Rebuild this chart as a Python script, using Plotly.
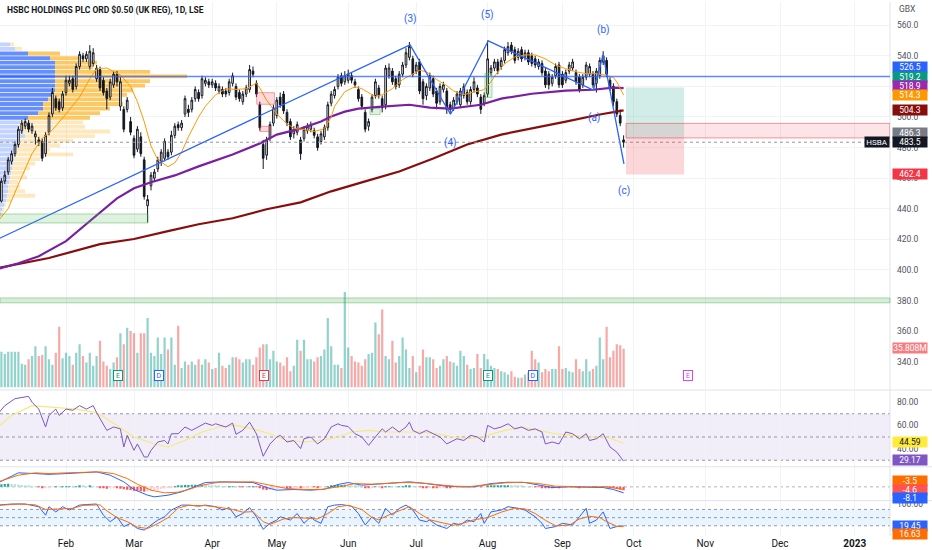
"""
HSBC (LSE: HSBA) daily chart rebuilt with Plotly.

Price panel with volume profile, moving averages and a wave drawing,
followed by volume, RSI, MACD and stochastic panels.
"""

import plotly.graph_objects as go

# ---------------------------------------------------------------------------
# data
# ---------------------------------------------------------------------------
TITLE = 'HSBC HOLDINGS PLC ORD $0.50 (UK REG), 1D, LSE'

# trading-day index of the first bar of each month (4 Jan 2022 = bar 0)
month_pos = [20, 40, 63, 82, 103, 123, 144, 166, 187, 208, 230, 252]
month_txt = ['Feb', 'Mar', 'Apr', 'May', 'Jun', 'Jul', 'Aug', 'Sep',
             'Oct', 'Nov', 'Dec', '<b>2023</b>']

opens = [
    445, 445, 458, 464, 471, 476, 482, 491, 494, 496,
    491, 487, 485, 484, 476, 490, 502, 512, 510, 506,
    516, 522, 525, 520, 533, 540, 538, 533, 535, 525,
    531, 524, 517, 513, 521, 528, 507, 505, 505, 497,
    486, 479, 487, 472, 442, 455, 460, 466, 471, 473,
    477, 477, 488, 495, 493, 502, 505, 505, 512, 516,
    514, 522, 523, 521, 522, 517, 518, 517, 516, 522,
    520, 516, 510, 515, 518, 530, 522, 508, 482, 475,
    486, 496, 501, 513, 515, 503, 497, 489, 490, 485,
    486, 491, 492, 491, 487, 484, 487, 493, 509, 514,
    520, 527, 523, 524, 527, 523, 518, 513, 503, 494,
    505, 514, 519, 512, 508, 527, 530, 525, 521, 528,
    534, 539, 538, 530, 536, 523, 514, 519, 525, 517,
    510, 518, 517, 508, 506, 510, 508, 514, 516, 510,
    518, 519, 513, 509, 515, 529, 532, 536, 533, 537,
    542, 547, 544, 539, 544, 539, 542, 540, 538, 533,
    535, 530, 528, 522, 527, 534, 528, 524, 530, 532,
    529, 526, 521, 526, 528, 528, 522, 527, 536, 537,
    524, 520, 510, 501, 485,
]
highs = [
    452, 460, 465, 474, 478, 484, 494, 498, 499, 498,
    496, 491, 487, 486, 490, 503, 519, 514, 512, 517,
    527, 527, 527, 535, 543, 542, 543, 547, 545, 534,
    533, 526, 519, 525, 530, 530, 526, 507, 513, 500,
    488, 494, 490, 474, 449, 464, 466, 474, 479, 486,
    479, 491, 496, 497, 498, 514, 508, 513, 520, 518,
    527, 526, 525, 525, 524, 522, 520, 519, 525, 529,
    522, 518, 517, 521, 534, 533, 524, 510, 485, 487,
    497, 508, 513, 516, 517, 505, 499, 494, 497, 487,
    494, 496, 497, 493, 489, 491, 495, 510, 517, 520,
    528, 529, 530, 531, 529, 525, 520, 515, 505, 499,
    515, 525, 521, 514, 534, 535, 532, 527, 530, 536,
    545, 549, 540, 536, 538, 525, 522, 529, 527, 519,
    522, 523, 519, 510, 513, 517, 519, 522, 518, 520,
    526, 521, 515, 516, 550, 534, 538, 538, 539, 546,
    549, 549, 546, 545, 546, 544, 544, 542, 540, 538,
    537, 532, 530, 528, 535, 536, 530, 531, 536, 538,
    531, 528, 528, 536, 535, 530, 532, 539, 543, 539,
    526, 522, 512, 505, 488,
]
lows = [
    443, 444, 456, 462, 469, 474, 480, 489, 492, 490,
    489, 482, 481, 471, 474, 488, 500, 504, 503, 504,
    514, 520, 516, 518, 531, 536, 536, 531, 533, 523,
    517, 514, 505, 511, 519, 520, 504, 490, 503, 488,
    473, 477, 474, 446, 431, 452, 458, 464, 468, 471,
    472, 475, 486, 491, 491, 500, 500, 503, 510, 510,
    512, 520, 519, 519, 517, 515, 513, 513, 514, 520,
    511, 510, 508, 513, 516, 526, 513, 491, 466, 472,
    484, 494, 499, 506, 502, 494, 485, 486, 488, 472,
    484, 489, 490, 486, 478, 482, 485, 491, 507, 512,
    518, 520, 521, 522, 522, 519, 510, 505, 490, 491,
    503, 512, 512, 503, 505, 525, 521, 518, 519, 526,
    532, 537, 526, 528, 515, 508, 511, 517, 513, 505,
    508, 516, 502, 502, 504, 508, 506, 512, 508, 508,
    516, 513, 502, 507, 513, 527, 530, 528, 531, 535,
    540, 541, 535, 537, 536, 537, 534, 533, 532, 531,
    527, 519, 518, 520, 525, 519, 519, 522, 528, 530,
    521, 516, 519, 524, 526, 519, 516, 525, 534, 526,
    517, 507, 500, 494, 480,
]
closes = [
    450, 458, 462, 472, 476, 482, 492, 496, 497, 492,
    494, 489, 483, 473, 488, 501, 516, 506, 505, 515,
    524, 524, 518, 533, 541, 538, 541, 543, 542, 532,
    519, 516, 512, 523, 528, 523, 523, 492, 511, 490,
    475, 492, 476, 448, 446, 462, 464, 472, 477, 484,
    474, 488, 494, 493, 496, 512, 503, 511, 518, 512,
    525, 524, 521, 523, 519, 520, 515, 515, 523, 527,
    513, 512, 515, 519, 531, 528, 515, 493, 473, 485,
    495, 506, 511, 508, 504, 496, 487, 492, 495, 476,
    492, 494, 495, 488, 480, 489, 493, 508, 515, 518,
    526, 522, 527, 528, 524, 521, 512, 507, 492, 497,
    513, 523, 514, 506, 532, 532, 523, 520, 528, 534,
    542, 546, 528, 534, 517, 512, 520, 527, 515, 509,
    520, 521, 505, 505, 511, 515, 517, 520, 510, 518,
    523, 515, 505, 514, 538, 532, 536, 530, 537, 544,
    546, 543, 537, 543, 538, 542, 536, 535, 534, 536,
    529, 521, 521, 526, 533, 521, 521, 529, 534, 536,
    523, 518, 526, 534, 533, 521, 530, 537, 540, 528,
    519, 510, 502, 496, 483.5,
]

# daily volume, millions of shares
volumes = [
    30, 33, 31, 33, 33, 33, 33, 22, 21, 26,
    29, 38, 29, 30, 38, 26, 21, 32, 56, 27,
    32, 29, 21, 32, 40, 29, 23, 32, 20, 29,
    43, 24, 20, 17, 23, 28, 50, 40, 55, 52,
    50, 32, 50, 50, 64, 32, 29, 46, 31, 46,
    35, 46, 21, 57, 18, 24, 21, 24, 21, 26,
    21, 26, 23, 17, 18, 32, 20, 18, 21, 28,
    28, 26, 23, 26, 26, 21, 28, 37, 40, 40,
    26, 34, 24, 23, 20, 28, 15, 20, 44, 34,
    44, 26, 26, 24, 28, 29, 35, 64, 38, 21,
    21, 18, 88, 37, 29, 24, 23, 20, 26, 31,
    32, 60, 49, 72, 29, 26, 43, 23, 29, 46,
    35, 18, 29, 14, 20, 35, 28, 28, 26, 18,
    20, 26, 29, 24, 23, 20, 34, 29, 21, 17,
    18, 31, 18, 31, 26, 20, 18, 17, 15, 14,
    12, 15, 10, 9, 9, 12, 14, 34, 26, 23,
    14, 17, 15, 17, 17, 38, 17, 18, 15, 14,
    26, 17, 15, 26, 15, 17, 20, 46, 26, 56,
    28, 34, 40, 39, 35.808,
]

# moving averages (bar index, price)
ema_idx = [0, 3, 6, 10, 13, 16, 20, 24, 27, 29, 32, 36, 39, 41, 43, 45, 47, 50,
           52, 54, 56, 59, 61, 64, 67, 70, 73, 76, 77, 79, 82, 84, 87, 90, 93,
           96, 98, 99, 102, 105, 107, 109, 111, 113, 116, 119, 122, 124, 126,
           129, 132, 134, 137, 140, 143, 145, 147, 149, 152, 155, 158, 161,
           164, 167, 170, 173, 176, 179, 181, 182, 184]
ema_val = [432, 440, 456, 476, 486, 491.5, 502, 513, 525, 531.5, 532, 527.5,
           520, 510, 497, 481, 472, 467.5, 470, 477, 487, 500, 507, 514.5,
           518.5, 518, 518.5, 522, 519, 511, 502, 497.5, 492.5, 491.8, 490.5,
           492.4, 500, 507, 516.5, 519.8, 518.5, 516, 513.3, 514.6, 518.5,
           524.5, 528, 530.5, 529.6, 524.5, 520.5, 517, 514.6, 516.5, 517.9,
           523, 529.6, 534.8, 539.3, 540.6, 540.6, 538, 534, 531.5, 529.6,
           528.3, 528.3, 527.2, 525.8, 523, 514.3]
sma50_idx = [0, 6, 12, 20, 28, 35, 40, 45, 52, 59, 69, 77, 82, 89, 95, 98, 102,
             106, 113, 121, 127, 133, 142, 148, 157, 167, 175, 181, 184]
sma50_val = [400.6, 404.4, 409, 418.8, 433.8, 446.8, 453.4, 457.3, 461.8,
             467.7, 475.5, 482.7, 488.5, 492.4, 497, 500.3, 503.5, 505.5,
             506.8, 508, 506.1, 505.5, 508, 512, 515.2, 517.2, 517.8, 519.2,
             518.9]
sma200_idx = [0, 15, 30, 40, 50, 59, 69, 79, 89, 98, 108, 118, 128, 138, 148,
              157, 167, 177, 184]
sma200_val = [401.3, 407.8, 416.9, 420.2, 425.4, 429.9, 433.8, 439.7, 444.2,
              451.4, 457.9, 464.4, 472.9, 482, 488.5, 492.4, 497, 501.6, 504.3]

# wave count drawing (bar index, price)
wave_idx = [-2, 121.2, 133.1, 144.2, 175.1, 178.0, 184.1]
wave_val = [418.1, 547.2, 501.8, 549.8, 517.6, 540.5, 469.4]
wave_lbl = ['(3)', '(4)', '(5)', '(a)', '(b)', '(c)']
wave_lbl_idx = [121.2, 133.2, 144.1, 175.3, 178.2, 184.1]
wave_lbl_val = [564.1, 483.3, 566.7, 499.6, 557.0, 451.4]

# visible range volume profile (row price, up / down volume in millions)
vp_price = [547.5, 544.5, 541.5, 538.5, 535.5, 532.5, 529.5, 526.5, 523.5,
            520.5, 517.5, 514.5, 511.5, 508.5, 505.5, 502.5, 499.5, 496.5,
            493.5, 490.5, 487.5, 484.5, 481.5, 478.5, 475.5, 472.5, 469.5,
            466.5, 463.5, 460.5, 457.5, 454.5, 451.5, 448.5, 445.5, 442.5,
            439.5, 436.5]
vp_up = [40, 60, 112, 200, 220, 220, 220, 220, 220, 220, 220, 212, 192, 172,
         172, 152, 112, 80, 72, 92, 100, 80, 72, 64, 60, 56, 52, 48, 44, 40,
         36, 32, 32, 28, 24, 16, 8, 4]
vp_down = [16, 28, 128, 120, 168, 152, 380, 528, 380, 360, 312, 296, 288, 320,
           268, 248, 248, 252, 268, 348, 280, 212, 168, 136, 232, 104, 88, 72,
           56, 68, 36, 48, 68, 112, 24, 8, 8, 8]
va_low, va_high = 499.5, 541.5

# RSI(14) and its moving average
rsi_idx = [0, 2, 5, 9, 10, 12, 14, 15, 17, 18, 20, 22, 24, 26, 28, 29, 32, 34,
           36, 37, 38, 40, 41, 43, 44, 45, 47, 49, 50, 51, 53, 55, 57, 59, 61,
           63, 64, 67, 69, 70, 72, 74, 76, 78, 80, 82, 83, 85, 87, 89, 90, 92,
           94, 96, 98, 100, 101, 103, 105, 107, 109, 111, 113, 114, 116, 118,
           120, 121, 122, 124, 126, 128, 130, 132, 134, 135, 137, 139, 141,
           143, 144, 146, 148, 150, 152, 154, 156, 158, 160, 161, 163, 165,
           167, 169, 171, 173, 174, 176, 178, 180, 182, 184]
rsi_val = [70, 77, 83, 85, 80, 74, 58.6, 68.6, 74, 68.6, 74, 73, 77, 74, 77, 71,
           55.7, 58.6, 57, 41.4, 51.4, 38.5, 44, 32.8, 32.8, 38.5, 45.7, 47, 44,
           52.8, 52.8, 58.6, 55.7, 58.6, 62, 60, 61.4, 58.6, 62, 52.3, 55.7,
           62.8, 52.8, 33.4, 44, 50, 51.4, 45.7, 47, 40, 48.5, 50, 44, 48.5,
           58.6, 61.4, 60, 59, 52.8, 50, 42.8, 50, 57, 54.3, 58.6, 54.3, 58.6,
           62.8, 55.7, 52.8, 55.7, 52.8, 50, 44, 47, 48.5, 47, 51.4, 50, 45.7,
           60, 57, 58.6, 61.4, 57, 58.6, 55.7, 57, 54.3, 44, 45.7, 44, 54.3,
           52.8, 48.5, 52.8, 47, 48.5, 52.8, 41.4, 37, 29.17]
rsima_idx = [0, 4, 10, 17, 23, 29, 35, 40, 46, 50, 55, 60, 65, 70, 75, 80, 85,
             90, 95, 100, 104, 109, 114, 119, 124, 129, 134, 139, 144, 149, 154,
             159, 164, 169, 174, 179, 183, 184]
rsima_val = [58.6, 68.6, 77, 75.7, 74, 71, 60, 50, 44, 41.4, 47, 54.3, 58.6, 60,
             57, 52.8, 47, 45.7, 47, 50, 54.3, 55.7, 54.3, 54.3, 54.3, 52.8, 50,
             48.5, 51.4, 55.7, 58.6, 55.7, 52.8, 51.4, 50, 50, 45.7, 44.59]

# MACD(12, 26, 9)
macd_idx = [0, 6, 11, 15, 20, 25, 29, 33, 37, 40, 44, 46, 50, 54, 58, 61, 66,
            71, 75, 79, 82, 87, 92, 96, 100, 103, 107, 111, 116, 121, 126, 131,
            136, 140, 145, 150, 155, 159, 163, 168, 173, 178, 181, 184]
macd_val = [5.4, 19, 18, 17, 18, 19.8, 20.3, 15.8, 6.8, -3.6, -11.3, -13.5,
            -11.3, -6.8, 0, 5.9, 6.8, 6.8, 5.9, -0.9, -4.5, -3.6, -4.5, -3.2,
            3.2, 5.9, 2.3, 3.6, 5.4, 6.8, 4.5, 1.4, 0, 0, 4.5, 6.3, 5.9, 2.3,
            -0.9, 0, 0, -0.9, -3.6, -8.1]
signal_idx = [0, 6, 11, 15, 20, 25, 30, 34, 38, 41, 45, 49, 53, 56, 60, 65, 70,
              75, 80, 85, 90, 95, 100, 105, 110, 114, 119, 124, 129, 134, 139,
              144, 149, 154, 159, 164, 169, 174, 179, 184]
signal_val = [6.8, 15.8, 19, 18, 19, 19.8, 20.3, 18, 11.3, 3.6, -4.5, -8.1,
              -7.2, -3.6, 2.3, 6.3, 6.8, 6.8, 2.3, -2.3, -3.6, -3.6, 0, 4.5,
              3.6, 4.5, 5.9, 5.4, 2.7, 0.9, 0.5, 2.7, 5.4, 6.3, 4.5, 0.9, 0, 0,
              0, -3.5]
macd_hist = [
    3.0, 3.5, 4.0, 4.2, 4.0, 3.6, 3.2, 2.6, 2.0, 1.4,
    0.8, 0.3, -0.3, -1.2, -1.0, -0.6, -0.2, 0.2, 0.1, 0.3,
    0.5, 0.6, 0.4, 0.7, 1.0, 0.9, 0.8, 0.9, 0.7, 0.2,
    -0.8, -1.6, -2.4, -2.2, -1.8, -1.9, -2.6, -3.4, -3.8, -4.4,
    -5.2, -5.4, -5.8, -6.6, -6.2, -5.4, -4.6, -3.8, -3.0, -2.2,
    -1.6, -0.8, 0.2, 0.9, 1.6, 2.4, 2.6, 2.8, 3.0, 2.8,
    2.9, 2.6, 2.2, 1.8, 1.4, 1.0, 0.6, 0.3, 0.3, 0.4,
    0.1, -0.2, -0.4, -0.2, 0.1, 0.2, -0.3, -1.6, -3.6, -4.4,
    -4.2, -3.6, -2.8, -2.2, -1.8, -1.8, -2.0, -1.6, -1.2, -1.4,
    -1.0, -0.6, -0.3, -0.4, -0.6, -0.3, 0.0, 0.8, 1.6, 2.2,
    2.6, 2.6, 2.8, 2.6, 2.2, 1.6, 1.0, 0.4, -0.6, -1.0,
    -0.6, 0.2, 0.0, -0.6, 0.4, 0.8, 0.6, 0.2, 0.4, 0.8,
    1.2, 1.4, 0.8, 0.2, -0.4, -0.9, -1.2, -1.0, -1.2, -1.4,
    -1.0, -0.8, -1.2, -1.3, -1.0, -0.7, -0.4, -0.1, -0.2, 0.0,
    0.2, 0.0, -0.3, -0.2, 1.0, 1.4, 1.8, 1.9, 2.0, 2.2,
    2.2, 2.0, 1.6, 1.4, 1.1, 0.8, 0.5, 0.2, -0.1, -0.3,
    -0.8, -1.4, -1.8, -1.8, -1.4, -1.6, -1.5, -1.0, -0.5, -0.1,
    -0.3, -0.6, -0.5, -0.2, 0.0, -0.4, -0.5, -0.1, 0.3, -0.2,
    -1.0, -1.9, -2.9, -3.8, -4.6,
]

# Stochastic %K / %D
stk_idx = [0, 4, 8, 12, 14, 15, 17, 19, 21, 24, 26, 29, 31, 33, 35, 37, 39, 41,
           43, 45, 47, 49, 51, 54, 56, 59, 61, 64, 66, 68, 70, 72, 74, 76, 78,
           80, 82, 83, 86, 88, 90, 92, 93, 95, 97, 99, 101, 104, 106, 108, 110,
           112, 114, 116, 118, 120, 122, 124, 126, 127, 129, 132, 134, 136,
           138, 140, 142, 143, 145, 148, 150, 153, 155, 158, 160, 161, 164,
           166, 169, 171, 173, 174, 176, 178, 180, 182, 184]
stk_val = [96, 100, 100, 90, 59, 90, 71, 90, 78, 96, 98, 100, 59, 35, 53, 17,
           29, 10, 4, 23, 41, 53, 78, 96, 96, 92, 96, 90, 78, 87, 53, 65, 87,
           53, 7, 29, 41, 53, 41, 65, 29, 53, 41, 29, 90, 96, 98, 92, 65, 23,
           53, 29, 84, 59, 84, 96, 78, 41, 35, 41, 23, 10, 29, 23, 41, 35, 65,
           29, 71, 78, 90, 84, 78, 53, 29, 10, 17, 29, 23, 53, 84, 29, 41, 71,
           10, 17, 19.45]
std_idx = [0, 6, 11, 14, 18, 22, 25, 30, 32, 35, 38, 41, 44, 47, 50, 53, 56, 61,
           65, 69, 72, 75, 78, 80, 84, 87, 91, 94, 97, 100, 103, 107, 110, 112,
           115, 118, 121, 124, 127, 131, 134, 137, 140, 144, 148, 152, 155, 158,
           161, 164, 168, 171, 174, 177, 179, 182, 184]
std_val = [95, 100, 97, 80, 82, 84, 95, 97, 75, 50, 35, 15, 10, 28, 50, 85, 95,
           94, 88, 80, 70, 72, 35, 25, 45, 50, 48, 45, 65, 90, 95, 80, 50, 42,
           60, 75, 90, 65, 42, 30, 22, 30, 42, 50, 70, 85, 82, 65, 40, 20, 22,
           45, 55, 50, 35, 18, 16.63]

# price levels of the drawings / position tool
level_line = 526.5
long_entry, long_target, long_stop = 486.3, 519.2, 462.4
zone_top = 495.8
# earnings / dividend markers (bar index, letter, colour)
events = [(35.3, 'E', '#089981'), (47.3, 'D', '#2962ff'), (78.2, 'E', '#f23645'),
          (144.1, 'E', '#089981'), (157.4, 'D', '#2962ff'), (203.0, 'E', '#e040fb')]

# ---------------------------------------------------------------------------
# layout helpers
# ---------------------------------------------------------------------------
W, H = 932, 550
PLOT_W, PLOT_H = 890, 536          # margins: right 42, bottom 14
X_RANGE = [0.59, 262.35]
FONT = 'Roboto, Arial, sans-serif'
TXT = '#131722'
GRID = '#f2f3f6'
SEP = '#e0e3eb'


def py(pix):
    """pixel row in the plot area -> paper y"""
    return 1 - pix / PLOT_H


bars = list(range(len(closes)))
fig = go.Figure()

# volume profile on the base x axis, so candles draw on top of it
up_col = ['rgba(41,98,255,0.72)' if va_low <= p <= va_high else 'rgba(41,98,255,0.28)'
          for p in vp_price]
dn_col = ['rgba(251,180,40,0.72)' if va_low <= p <= va_high else 'rgba(251,180,40,0.3)'
          for p in vp_price]
fig.add_trace(go.Bar(x=vp_up, y=vp_price, orientation='h', width=2.5,
                     marker=dict(color=up_col, line_width=0),
                     xaxis='x', yaxis='y', hoverinfo='skip', showlegend=False))
fig.add_trace(go.Bar(x=vp_down, y=vp_price, base=vp_up, orientation='h', width=2.5,
                     marker=dict(color=dn_col, line_width=0),
                     xaxis='x', yaxis='y', hoverinfo='skip', showlegend=False))

# candles
fig.add_trace(go.Candlestick(
    x=bars, open=opens, high=highs, low=lows, close=closes,
    increasing=dict(line=dict(color=TXT, width=1), fillcolor='#ffffff'),
    decreasing=dict(line=dict(color=TXT, width=1), fillcolor=TXT),
    whiskerwidth=0, xaxis='x2', yaxis='y', hoverinfo='skip', showlegend=False))

# moving averages + wave drawing
fig.add_trace(go.Scatter(x=sma200_idx, y=sma200_val, mode='lines',
                         line=dict(color='#880e0e', width=2.2),
                         xaxis='x2', yaxis='y', hoverinfo='skip', showlegend=False))
fig.add_trace(go.Scatter(x=sma50_idx, y=sma50_val, mode='lines',
                         line=dict(color='#7b1fa2', width=2.2),
                         xaxis='x2', yaxis='y', hoverinfo='skip', showlegend=False))
fig.add_trace(go.Scatter(x=ema_idx, y=ema_val, mode='lines',
                         line=dict(color='#ff9800', width=1),
                         xaxis='x2', yaxis='y', hoverinfo='skip', showlegend=False))
fig.add_trace(go.Scatter(x=wave_idx, y=wave_val, mode='lines',
                         line=dict(color='#2962ff', width=1.3),
                         xaxis='x2', yaxis='y', hoverinfo='skip', showlegend=False))

# volume
vol_col = ['rgba(38,166,154,0.5)' if c >= o else 'rgba(239,83,80,0.5)'
           for o, c in zip(opens, closes)]
fig.add_trace(go.Bar(x=bars, y=volumes, width=0.65, marker=dict(color=vol_col, line_width=0),
                     xaxis='x3', yaxis='y2', hoverinfo='skip', showlegend=False))

# RSI
fig.add_trace(go.Scatter(x=rsima_idx, y=rsima_val, mode='lines',
                         line=dict(color='#f5e97a', width=1.2),
                         xaxis='x4', yaxis='y3', hoverinfo='skip', showlegend=False))
fig.add_trace(go.Scatter(x=rsi_idx, y=rsi_val, mode='lines',
                         line=dict(color='#7e57c2', width=1),
                         xaxis='x4', yaxis='y3', hoverinfo='skip', showlegend=False))

# MACD
hist_col = []
for k, h in enumerate(macd_hist):
    prev = macd_hist[k - 1] if k else h
    if h >= 0:
        hist_col.append('#26a69a' if h >= prev else '#b2dfdb')
    else:
        hist_col.append('#ff5252' if h <= prev else '#ffcdd2')
fig.add_trace(go.Bar(x=bars, y=macd_hist, width=0.65, marker=dict(color=hist_col, line_width=0),
                     xaxis='x5', yaxis='y4', hoverinfo='skip', showlegend=False))
fig.add_trace(go.Scatter(x=macd_idx, y=macd_val, mode='lines',
                         line=dict(color='#2962ff', width=1),
                         xaxis='x5', yaxis='y4', hoverinfo='skip', showlegend=False))
fig.add_trace(go.Scatter(x=signal_idx, y=signal_val, mode='lines',
                         line=dict(color='#ff6d00', width=1),
                         xaxis='x5', yaxis='y4', hoverinfo='skip', showlegend=False))

# Stochastic
fig.add_trace(go.Scatter(x=stk_idx, y=stk_val, mode='lines',
                         line=dict(color='#2962ff', width=1),
                         xaxis='x6', yaxis='y5', hoverinfo='skip', showlegend=False))
fig.add_trace(go.Scatter(x=std_idx, y=std_val, mode='lines',
                         line=dict(color='#ff6d00', width=1),
                         xaxis='x6', yaxis='y5', hoverinfo='skip', showlegend=False))

# ---------------------------------------------------------------------------
# shapes
# ---------------------------------------------------------------------------
shapes = []


def hline(yref, y, color, width=1, dash='solid', x0=0, x1=1, layer='above'):
    shapes.append(dict(type='line', xref='paper', x0=x0, x1=x1, yref=yref, y0=y, y1=y,
                       line=dict(color=color, width=width, dash=dash), layer=layer))


def box(x0, x1, y0, y1, fill, line='rgba(0,0,0,0)', xref='x2', yref='y', layer='above'):
    shapes.append(dict(type='rect', xref=xref, x0=x0, x1=x1, yref=yref, y0=y0, y1=y1,
                       fillcolor=fill, line=dict(color=line, width=1), layer=layer))


# indicator bands and guide lines
box(0, 1, 30, 70, 'rgba(126,87,194,0.1)', xref='paper', yref='y3', layer='below')
box(0, 1, 20, 80, 'rgba(33,150,243,0.1)', xref='paper', yref='y5', layer='below')
for v in (70, 50, 30):
    hline('y3', v, '#9598a1', dash='3px,3px', layer='below')
for v in (80, 50, 20):
    hline('y5', v, '#9598a1', dash='3px,3px', layer='below')
hline('y4', 0, '#b2b5be', dash='3px,3px', layer='below')

# panel separators and price-scale border
for pix in (389.5, 466.5, 500.5):
    hline('paper', py(pix), SEP, x1=1.06)
shapes.append(dict(type='line', xref='paper', x0=1, x1=1, yref='paper', y0=0, y1=1,
                   line=dict(color=SEP, width=1)))

# drawings on the price panel
hline('y', level_line, 'rgba(41,98,255,0.75)', width=1.5)
hline('y', closes[-1], '#9598a1', dash='dot')
box(0, 1, 378.5, 381.7, 'rgba(76,175,80,0.22)', line='rgba(76,175,80,0.45)', xref='paper')
box(-1, 44.1, 430.7, 436.6, 'rgba(76,175,80,0.18)', line='rgba(76,175,80,0.45)')
box(109.4, 112.4, 501.6, 505.5, 'rgba(76,175,80,0.18)', line='rgba(76,175,80,0.45)')
box(143.2, 145.3, 512.7, 528.5, 'rgba(76,175,80,0.18)', line='rgba(76,175,80,0.45)')
box(76.1, 81.3, 508.3, 515.9, 'rgba(242,54,69,0.18)', line='rgba(242,54,69,0.45)')
box(77.1, 80.1, 490.5, 493.9, 'rgba(242,54,69,0.18)', line='rgba(242,54,69,0.45)')

# long position tool + supply zone
box(184.7, 201.8, long_entry, long_target, 'rgba(8,153,129,0.18)')
box(184.7, 201.8, long_stop, long_entry, 'rgba(242,54,69,0.2)')
box(184.7, X_RANGE[1], long_entry, zone_top, 'rgba(242,54,69,0.13)', line='rgba(242,54,69,0.5)')

# ---------------------------------------------------------------------------
# annotations
# ---------------------------------------------------------------------------
ann = [dict(text=f'<b>{TITLE}</b>', xref='paper', yref='paper', x=5 / PLOT_W, y=py(9),
            xanchor='left', yanchor='middle', showarrow=False,
            font=dict(size=8.5, color=TXT, family=FONT)),
       dict(text='GBX', xref='paper', yref='paper', x=1.008, y=py(7), xanchor='left',
            yanchor='middle', showarrow=False, font=dict(size=8.5, color='#50535e', family=FONT))]

for t, xi, yv in zip(wave_lbl, wave_lbl_idx, wave_lbl_val):
    ann.append(dict(text=t, xref='x2', yref='y', x=xi, y=yv, showarrow=False,
                    font=dict(size=10, color='#2962ff', family=FONT)))

for xi, letter, col in events:
    ann.append(dict(text=letter, xref='x3', yref='paper', x=xi, y=py(380), showarrow=False,
                    font=dict(size=7, color=col, family=FONT), bgcolor='#ffffff',
                    bordercolor=col, borderwidth=1, borderpad=0, width=8, height=9))

# price-scale value tags (text, colour, pixel row)
tags = [
    (f'{level_line}', '#2962ff', 65), (f'{long_target}', '#089981', 75),
    (f'{sma50_val[-1]}', '#9c27b0', 84), (f'{ema_val[-1]}', '#ff9800', 93),
    (f'{sma200_val[-1]}', '#880e0e', 108), (f'{long_entry}', '#787b86', 131),
    (f'{closes[-1]}', TXT, 141), (f'{long_stop}', '#f23645', 173),
    (f'{volumes[-1]:.3f}M', '#f77c80', 347.5),
    (f'{rsima_val[-1]}', '#ffeb3b', 442), (f'{rsi_val[-1]}', '#7e57c2', 460),
    (f'{signal_val[-1]}', '#ff6d00', 481), (f'{macd_hist[-1]}', '#ff5252', 490),
    (f'{macd_val[-1]}', '#2962ff', 497.5),
    (f'{stk_val[-1]}', '#2962ff', 526), (f'{std_val[-1]}', '#ff6d00', 534),
]
for text, col, pix in tags:
    ann.append(dict(text=text, xref='paper', yref='paper', x=892 / PLOT_W, y=py(pix),
                    xanchor='left', yanchor='middle', showarrow=False, bgcolor=col,
                    width=34, height=10, borderpad=0,
                    font=dict(size=8.5, family=FONT,
                              color=TXT if col == '#ffeb3b' else '#ffffff')))
ann.append(dict(text='HSBA', xref='paper', yref='paper', x=1.0, y=py(141), xanchor='right',
                yanchor='middle', showarrow=False, bgcolor=TXT, width=24, height=10,
                borderpad=0, font=dict(size=8, family=FONT, color='#ffffff')))

# ---------------------------------------------------------------------------
# axes
# ---------------------------------------------------------------------------
x_common = dict(domain=[0, 1], range=X_RANGE, tickvals=month_pos, showgrid=True,
                gridcolor=GRID, zeroline=False, showticklabels=False, ticks='',
                fixedrange=True)
y_common = dict(side='right', zeroline=False, ticks='', fixedrange=True,
                ticklabelstandoff=6,
                tickfont=dict(size=8.5, color='#50535e', family=FONT))
price_ticks = list(range(340, 561, 20))

fig.update_layout(
    width=W, height=H,
    margin=dict(l=0, r=W - PLOT_W, t=0, b=H - PLOT_H),
    paper_bgcolor='#ffffff', plot_bgcolor='#ffffff',
    font=dict(family=FONT, size=9, color=TXT),
    barmode='overlay', showlegend=False, hovermode=False,
    xaxis=dict(domain=[0, 1], range=[0, PLOT_W * 4], visible=False, anchor='y',
               fixedrange=True),
    xaxis2=dict(x_common, overlaying='x', anchor='y', rangeslider=dict(visible=False)),
    xaxis3=dict(x_common, anchor='y2'),
    xaxis4=dict(x_common, anchor='y3'),
    xaxis5=dict(x_common, anchor='y4'),
    xaxis6=dict(x_common, anchor='y5', showticklabels=True, ticktext=month_txt,
                tickfont=dict(size=10, color=TXT, family=FONT)),
    yaxis=dict(y_common, domain=[py(389), 1], range=[321.8, 575.18], anchor='x',
               tickvals=price_ticks, ticktext=[f'{v:.1f}' for v in price_ticks],
               showgrid=True, gridcolor=GRID),
    yaxis2=dict(domain=[py(387), py(290)], range=[0, 89], visible=False, anchor='x3',
                fixedrange=True),
    yaxis3=dict(y_common, domain=[py(466), py(390)], range=[24.8, 90], anchor='x4',
                tickvals=[40, 60, 80], ticktext=['40.00', '60.00', '80.00'], showgrid=False),
    yaxis4=dict(y_common, domain=[py(500), py(467)], range=[-18, 26.6], anchor='x5',
                showticklabels=False, showgrid=False),
    yaxis5=dict(y_common, domain=[0, py(501)], range=[-17.6, 110.6], anchor='x6',
                tickvals=[100], ticktext=['100.00'], showgrid=False),
    shapes=shapes,
    annotations=ann,
)

# drop the browser's default page margin so the figure sits at the window origin
fig.write_html('out.html', config={'displayModeBar': False},
               post_script="document.body.style.margin='0';")
